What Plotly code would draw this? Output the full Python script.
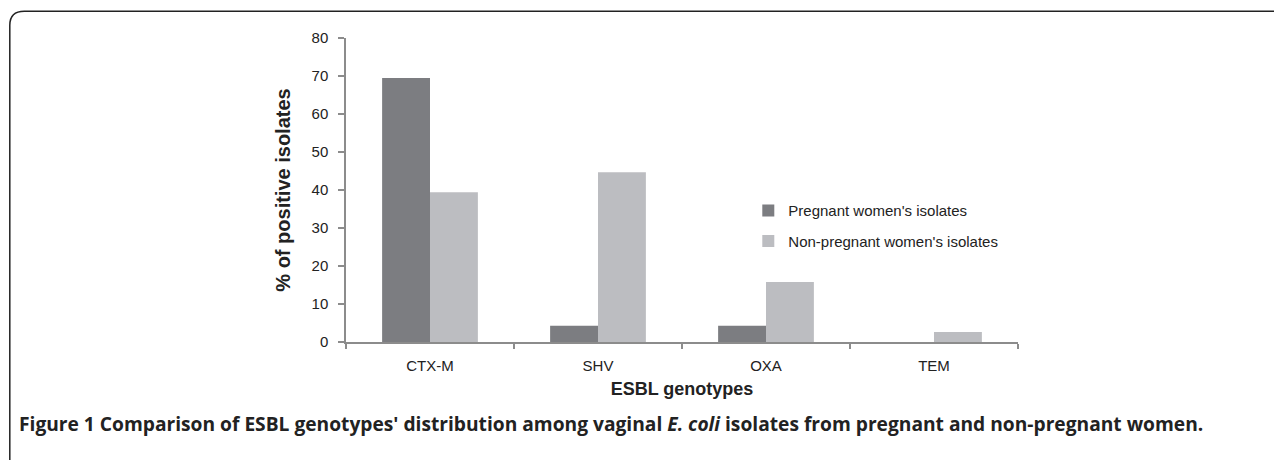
import plotly.graph_objects as go

categories = ["CTX-M", "SHV", "OXA", "TEM"]
pregnant = [69.5, 4.3, 4.3, 0]
non_pregnant = [39.4, 44.7, 15.8, 2.6]
series_names = ["Pregnant women's isolates", "Non-pregnant women's isolates"]
colors = ["#7c7d81", "#bcbdc1"]
y_ticks = [0, 10, 20, 30, 40, 50, 60, 70, 80]

# window size and the default 8px page margin of the html body
WIN_W, WIN_H = 1282, 460
OFF = 8
L, R = 345.7, 1017.7   # plot area in window pixels
T, B = 37.7, 341.7

def px(x):
    return (x - L) / (R - L)

def py(y):
    return (B - y) / (B - T)

fig = go.Figure()
for name, vals, col, grp in zip(series_names, [pregnant, non_pregnant], colors, ["a", "b"]):
    fig.add_trace(go.Bar(x=categories, y=vals, name=name,
                         marker=dict(color=col, line=dict(width=0)), legendgroup=grp))

font_family = "Liberation Sans, Arial, sans-serif"
txt = "#222"

fig.update_layout(
    width=WIN_W - OFF, height=WIN_H - OFF,
    margin=dict(l=L - OFF, r=WIN_W - R, t=T - OFF, b=WIN_H - B, pad=0),
    paper_bgcolor="white", plot_bgcolor="white",
    barmode="group", bargap=0.43, bargroupgap=0,
    font=dict(family=font_family, size=15, color=txt),
    showlegend=True,
    legend=dict(x=px(748), y=py(194), xanchor="left", yanchor="top",
                font=dict(size=15, color=txt), traceorder="grouped",
                tracegroupgap=8, itemwidth=30, bgcolor="rgba(0,0,0,0)"),
    xaxis=dict(showline=True, linecolor="#8c8c8c", linewidth=1.5, ticks="outside",
               tickson="boundaries", ticklen=5, tickcolor="#8c8c8c", tickwidth=1.5,
               tickfont=dict(size=15, color=txt), ticklabelstandoff=9,
               title=dict(text="<b>ESBL genotypes</b>", font=dict(size=18, color=txt), standoff=10)),
    yaxis=dict(range=[0, 80], tickvals=y_ticks, showline=True, linecolor="#8c8c8c", linewidth=1.5,
               ticks="outside", ticklen=6, tickcolor="#8c8c8c", tickwidth=1.5,
               showgrid=False, zeroline=False, ticklabelstandoff=7,
               tickfont=dict(size=15, color=txt),
               title=dict(text="<b>% of positive isolates</b>", font=dict(size=20, color=txt), standoff=16)),
)

# rounded panel frame
path = (f"M {px(9.5)},{py(480)} L {px(9.5)},{py(25)} Q {px(9.5)},{py(11)} {px(24)},{py(11)} "
        f"L {px(1300)},{py(11)}")
fig.add_shape(type="path", path=path, xref="paper", yref="paper",
              line=dict(color="#222", width=1.5))

fig.add_annotation(
    text="<b>Figure 1 Comparison of ESBL genotypes' distribution among vaginal <i>E. coli</i> isolates from pregnant and non-pregnant women.</b>",
    xref="paper", yref="paper", x=px(17), y=py(423), xanchor="left", yanchor="middle",
    showarrow=False, font=dict(size=19.2, color=txt, family="Open Sans, sans-serif"))

fig.write_html("out.html")
